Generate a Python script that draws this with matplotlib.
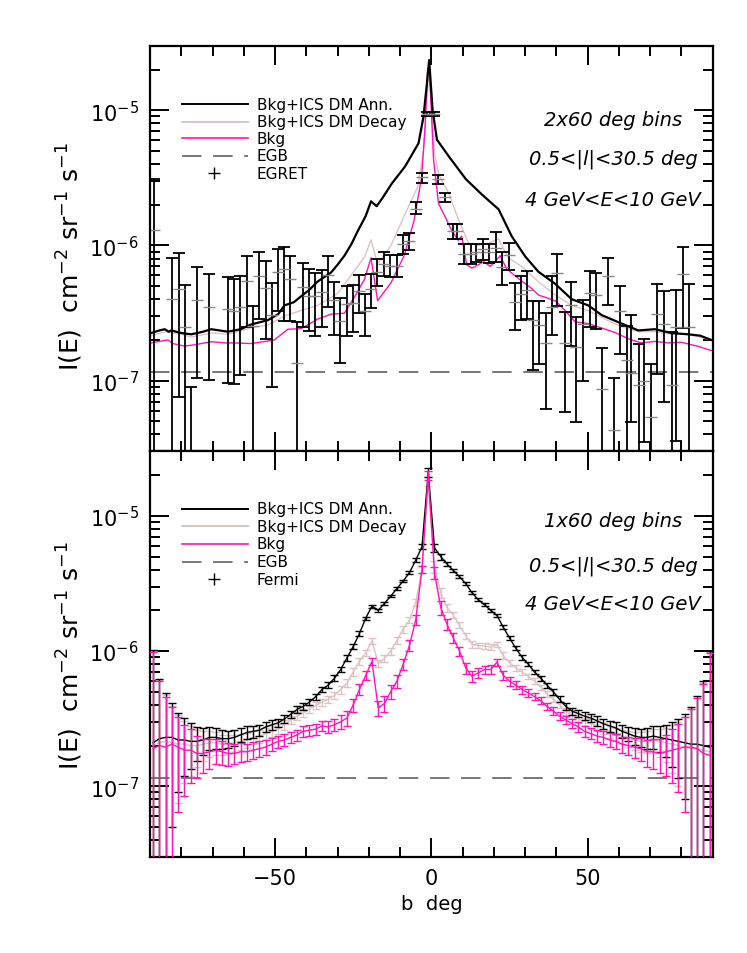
import numpy as np
import matplotlib
matplotlib.use('Agg')
import matplotlib.pyplot as plt
from matplotlib.ticker import MultipleLocator, LogLocator, NullFormatter

matplotlib.rcParams.update({'font.family': 'DejaVu Sans', 'mathtext.fontset': 'dejavusans'})

U = 1e-7   # all intensities below are in units of 1e-7 cm^-2 sr^-1 s^-1
egb = 1.15

# ---- top panel: 2x60 deg bins, models vs EGRET ----
ann_top_b = [-89.6, -87, -85.3, -84, -83.2, -80, -76.8, -73, -70.4, -65.1, -61, -57.7,
             -52.3, -49, -47, -44, -41.7, -39, -36.4, -32.1, -30, -27.8, -25.5, -23.6,
             -21, -19.3, -17.5, -15.6, -12.6, -8.4, -4.1, -2.5, -1.4, -0.7, 0.4, 1.8,
             5.6, 11, 16, 21.5, 25.7, 30, 34.2, 39.6, 44.9, 50.2, 54.5, 60.9, 66.2,
             71.5, 76.8, 82.2, 86, 89.5]
ann_top = [2.25, 2.35, 2.4, 2.3, 2.35, 2.25, 2.2, 2.3, 2.4, 2.3, 2.4, 2.6,
           2.8, 3.1, 3.6, 3.8, 4.2, 4.7, 5.4, 6.3, 7.2, 8.4, 10.3, 12.7,
           16.5, 21.2, 19.5, 22.5, 28.8, 38.4, 57, 90, 160, 235, 100, 60.5,
           45.5, 31, 24, 18.5, 11.7, 8.3, 6.4, 5.2, 4.0, 3.6, 3.05, 2.64, 2.35,
           2.4, 2.25, 2.2, 2.15, 2.0]

dec_top_b = [-89.6, -85, -80, -76.8, -70, -65, -57.7, -52, -47, -41.7, -36.4, -30,
             -25.7, -21.4, -19.3, -17.2, -12.9, -8.7, -4.4, -2.5, -1.4, -0.7, 0.4,
             1.2, 2.5, 5.5, 8.7, 11.9, 15, 18.3, 21.5, 24.6, 28.9, 34.2, 39.6, 44.9,
             50.2, 55.5, 60.9, 66.2, 71.5, 76.8, 82.2, 89.5]
dec_top = [2.15, 2.3, 2.2, 2.1, 2.25, 2.2, 2.45, 2.6, 3.0, 3.3, 3.6, 4.4,
           6.0, 8.2, 11, 7.3, 10, 16.5, 27, 50, 120, 210, 80,
           45, 33, 24.5, 15.5, 10.4, 10, 10.4, 11.2, 8.1, 7.0, 5.4, 4.3, 3.6,
           3.3, 2.85, 2.5, 2.3, 2.3, 2.2, 2.2, 2.0]

bkg_top_b = [-89.6, -87, -84.3, -82.7, -79, -75.8, -70.4, -66, -63, -57.7, -53, -50.2,
             -45.9, -41.7, -36.4, -32.1, -27.8, -24.6, -21.4, -19.3, -17.2, -12.9,
             -8.7, -5.5, -3.1, -2.0, -1.2, -0.7, 0.0, 0.7, 2.3, 4.4, 6.5, 8.6, 9.7,
             11.3, 13.0, 15.1, 16.7, 18.8, 20.4, 22.0, 24.1, 27.8, 32.1, 34.2, 39.6,
             42.8, 46.0, 50.2, 54.5, 58.7, 63.0, 67.2, 71.5, 75.8, 80.0, 85.4, 89.5]
bkg_top = [1.9, 1.95, 2.0, 1.88, 1.8, 1.84, 1.94, 1.9, 1.9, 1.88, 1.95, 2.0,
           2.4, 2.42, 2.85, 3.1, 3.15, 4.15, 5.6, 8.1, 3.9, 5.3,
           8.4, 15.4, 32, 76, 200, 210, 100, 43, 20.4, 16.3, 12.9, 10.9, 11.7,
           7.2, 6.8, 7.2, 7.6, 7.0, 7.6, 8.4, 6.7, 5.7, 4.8, 4.3, 3.9,
           3.3, 2.72, 2.64, 2.45, 2.27, 2.04, 1.9, 1.95, 1.9, 1.92, 1.79, 1.67]

# EGRET points: b, value, upper end, lower end (0.001 = runs off the bottom)
egret_b = [-88.7, -82.9, -80.8, -78.8, -77.0, -74.9, -71.0, -64.9, -63.0, -61.1, -58.9,
           -57.0, -55.2, -53.0, -51.1, -49.1, -47.0, -45.1, -43.1, -40.9, -39.0, -37.1,
           -35.0, -33.2, -31.0, -29.1, -27.0, -25.1, -23.0, -21.1, -19.2, -17.4, -15.1,
           -13.1, -11.1, -9.2, -7.3, -5.0, -3.0, -1.4, -0.4, 1.0, 2.1, 4.4, 6.9, 8.3,
           10.5, 12.6, 14.4, 16.4, 18.5, 20.6, 22.7, 24.7, 26.8, 28.6, 30.5, 32.6, 34.5,
           36.6, 38.7, 40.3, 42.6, 44.6, 46.4, 48.6, 50.6, 52.6, 54.7, 56.5, 58.4, 60.5,
           62.5, 64.0, 66.5, 68.0, 70.1, 72.3, 74.4, 77.1, 78.3, 80.5, 82.4]
egret_val = [13, 4.0, 4.75, 2.48, 0.2, 3.95, 3.5, 3.4, 3.3, 3.5, 5.5,
             2.55, 5.9, 4.87, 3.08, 6.4, 6.7, 5.6, 1.35, 4.95, 4.2, 4.2,
             4.55, 6.0, 3.95, 2.75, 3.68, 3.72, 4.6, 3.3, 4.8, 6.4, 7.26,
             7.1, 7.1, 10.2, 10.7, 18.7, 31.9, 94, 94, 94, 30.8, 22.7, 12.7, 12.7,
             8.7, 8.7, 8.9, 9.4, 8.9, 9.55, 6.9, 8.5, 3.8, 4.4, 4.7, 2.8, 2.6,
             1.9, 3.5, 6.2, 1.9, 3.6, 1.77, 2.64, 4.47, 4.3, 0.87, 5.9, 0.43, 3.3,
             1.41, 1.13, 0.93, 1.0, 0.54, 3.13, 2.64, 0.93, 2.5, 6.1, 2.5]
egret_hi = [31, 8.1, 8.8, 5.1, 0.9, 6.9, 6.1, 5.8, 5.65, 5.9, 8.4,
            3.56, 9.0, 7.7, 5.3, 9.4, 9.8, 8.4, 2.7, 7.4, 6.7, 6.3,
            6.6, 8.3, 5.4, 4.07, 5.0, 5.07, 6.05, 4.4, 6.15, 7.95, 8.9,
            8.5, 8.5, 12, 12.4, 20.9, 34.5, 97, 97, 97, 33, 24.5, 14.4, 14.4,
            10.2, 10.2, 10.3, 11.1, 10.2, 12.6, 8.9, 10.5, 5.25, 5.9, 6.5, 3.9, 3.9,
            3.17, 5.9, 8.6, 3.2, 5.4, 2.96, 3.98, 6.5, 6.3, 1.75, 8.1, 1.05, 5.0,
            2.52, 3.05, 1.87, 2.04, 1.33, 5.15, 4.6, 2.29, 4.7, 9.8, 5.15]
egret_lo = [0.001, 0.001, 0.76, 0.001, 0.001, 1.04, 1.01, 0.96, 0.95, 1.1, 2.5,
            0.001, 2.86, 2.03, 0.89, 3.26, 2.77, 2.77, 0.001, 2.48, 2.34, 2.14,
            2.48, 3.5, 2.19, 1.36, 2.15, 2.29, 3.17, 2.12, 3.47, 5.0, 5.9,
            5.8, 5.8, 8.7, 9.2, 17.1, 29, 91, 91, 91, 28.5, 21, 11.2, 11.2,
            7.3, 7.3, 7.6, 7.8, 7.4, 7.6, 5.1, 6.6, 2.35, 2.8, 2.88, 1.19, 1.33,
            0.62, 2.19, 3.56, 0.59, 1.79, 0.49, 0.99, 2.5, 2.4, 0.001, 3.6, 0.001, 1.58,
            0.001, 0.49, 0.001, 0.35, 0.001, 1.12, 0.69, 0.001, 0.36, 2.43, 0.001]

# ---- bottom panel: 1x60 deg bins, models with Fermi errors (b = -89 ... 89) ----
b_bot = np.arange(-89, 90, 2)
ann_bot = [2.1, 2.25, 2.3, 2.3, 2.2, 2.2, 2.15, 2.15, 2.2, 2.3,
           2.3, 2.25, 2.25, 2.3, 2.4, 2.5, 2.55, 2.6, 2.75, 2.85,
           2.95, 3.15, 3.4, 3.7, 3.9, 4.2, 4.6, 5.2, 5.6, 6.3,
           7.3, 8.9, 10.8, 13.5, 17.5, 21.5, 20, 22.5, 25.5, 29,
           33, 38, 47, 59, 210, 58, 50, 44, 39.5, 35.5,
           31.5, 27, 24, 22, 20, 18.3, 15, 12.5, 10.5, 9,
           8, 7, 6.3, 5.6, 5.0, 4.4, 3.9, 3.6, 3.45, 3.3,
           3.2, 3.05, 2.9, 2.8, 2.7, 2.55, 2.45, 2.35, 2.3, 2.3,
           2.35, 2.3, 2.25, 2.2, 2.15, 2.1, 2.05, 2.05, 2.0, 1.95]
dec_bot = [2.0, 2.1, 2.15, 2.1, 2.05, 2.05, 2.0, 2.0, 2.05, 2.1,
           2.1, 2.05, 2.05, 2.1, 2.15, 2.2, 2.3, 2.35, 2.45, 2.55,
           2.65, 2.85, 3.1, 3.3, 3.5, 3.7, 3.95, 4.2, 4.4, 4.7,
           5.2, 5.8, 7.0, 8.4, 9.7, 11.9, 8.1, 8.8, 10, 12,
           14.5, 17, 23, 40, 180, 42, 27, 21, 18.5, 15.5,
           13, 11.2, 11, 10.9, 10.7, 11.2, 9.3, 8.2, 7.5, 7.0,
           6.5, 6.0, 5.4, 4.8, 4.4, 4.0, 3.6, 3.35, 3.15, 3.0,
           2.9, 2.8, 2.7, 2.55, 2.45, 2.35, 2.25, 2.2, 2.15, 2.15,
           2.2, 2.15, 2.1, 2.05, 2.0, 1.95, 1.9, 1.9, 1.85, 1.8]
bkg_bot = [1.9, 2.0, 1.95, 2.05, 1.95, 1.85, 1.85, 1.75, 1.75, 1.8,
           1.85, 1.8, 1.75, 1.75, 1.8, 1.8, 1.85, 1.9, 1.95, 2.05,
           2.15, 2.2, 2.3, 2.4, 2.55, 2.6, 2.65, 2.8, 2.75, 2.85,
           3.0, 3.2, 4.0, 5.2, 6.6, 8.4, 3.8, 4.1, 5.0, 6.0,
           8.0, 11, 17, 40, 200, 38, 21, 15.8, 12.5, 10,
           7.5, 6.5, 6.9, 7.3, 7.3, 8.3, 6.6, 6.0, 5.6, 5.2,
           4.9, 4.6, 4.3, 3.9, 3.6, 3.3, 3.1, 2.9, 2.75, 2.55,
           2.45, 2.35, 2.3, 2.2, 2.15, 2.05, 2.0, 1.95, 1.9, 1.8,
           1.8, 1.75, 1.8, 1.85, 1.9, 1.95, 1.95, 1.9, 1.75, 1.7]
sig_bot = [8, 4, 2.6, 1.8, 1.3, 1.0, 0.8, 0.6, 0.5, 0.45,
           0.4, 0.36, 0.33, 0.3, 0.28, 0.27, 0.26, 0.25, 0.24, 0.23,
           0.22, 0.22, 0.22, 0.22, 0.22, 0.23, 0.24, 0.25, 0.27, 0.3,
           0.35, 0.4, 0.45, 0.5, 0.5, 0.55, 0.5, 0.55, 0.6, 0.7,
           0.8, 1.0, 1.4, 2.5, 15, 4, 2.5, 1.4, 1.0, 0.8,
           0.7, 0.6, 0.55, 0.5, 0.55, 0.5, 0.5, 0.45, 0.4, 0.35,
           0.3, 0.27, 0.25, 0.24, 0.23, 0.22, 0.22, 0.22, 0.22, 0.22,
           0.23, 0.24, 0.25, 0.26, 0.27, 0.28, 0.3, 0.33, 0.36, 0.4,
           0.45, 0.5, 0.6, 0.8, 1.0, 1.3, 1.8, 2.6, 4, 8]

c_ann = 'black'
c_dec = '#dcc4c4'
c_bkg = '#ff14b4'
c_egb = '#777777'
egb_dash = (0, (10, 6))

fig = plt.figure(figsize=(7.47, 9.54), dpi=100)
ax1 = fig.add_axes([0.2008, 0.5259, 0.7533, 0.4251])
ax2 = fig.add_axes([0.2008, 0.1006, 0.7533, 0.4253])


def style(ax):
    ax.set_yscale('log')
    ax.set_xlim(-90, 90)
    ax.set_ylim(3e-8, 3e-5)
    ax.xaxis.set_major_locator(MultipleLocator(50))
    ax.xaxis.set_minor_locator(MultipleLocator(10))
    ax.yaxis.set_minor_locator(LogLocator(base=10, subs=np.arange(2, 10)))
    ax.yaxis.set_minor_formatter(NullFormatter())
    ax.tick_params(which='both', direction='in', top=True, right=True, width=1.4)
    ax.tick_params(which='major', length=14, labelsize=15, pad=8)
    ax.tick_params(which='minor', length=7)
    for s in ax.spines.values():
        s.set_linewidth(1.6)


def legend(ax, data_name, rows_y):
    items = [('Bkg+ICS DM Ann.', c_ann, '-', 1.4), ('Bkg+ICS DM Decay', c_dec, '-', 1.4),
             ('Bkg', c_bkg, '-', 1.2), ('EGB', c_egb, egb_dash, 1.4)]
    for (lab, col, ls, lw), y in zip(items, rows_y[:4]):
        ax.plot([0.056, 0.174], [y, y], transform=ax.transAxes, color=col, ls=ls, lw=lw)
        ax.text(0.19, y, lab, transform=ax.transAxes, fontsize=11, va='center')
    ax.plot([0.114], [rows_y[4]], transform=ax.transAxes, marker='+', ms=8, color='black', ls='none')
    ax.text(0.19, rows_y[4], data_name, transform=ax.transAxes, fontsize=11, va='center')


def notes(ax, first, ys):
    for txt, y in zip([first, '0.5<|l|<30.5 deg', '4 GeV<E<10 GeV'], ys):
        ax.text(0.823, y, txt, transform=ax.transAxes, ha='center', va='center',
                fontsize=14, style='italic')


# top panel
style(ax1)
ax1.tick_params(labelbottom=False)
ax1.axhline(egb * U, color=c_egb, lw=1.4, ls=egb_dash)
ax1.plot(dec_top_b, np.array(dec_top) * U, color=c_dec, lw=1.0)
ax1.plot(bkg_top_b, np.array(bkg_top) * U, color=c_bkg, lw=1.0)
ax1.plot(ann_top_b, np.array(ann_top) * U, color=c_ann, lw=1.6)
ev = np.array(egret_val)
ax1.errorbar(egret_b, ev * U, yerr=[(ev - np.array(egret_lo)) * U, (np.array(egret_hi) - ev) * U],
             fmt='none', ecolor='black', elinewidth=1.3, capsize=4, capthick=1.3)
ax1.plot(egret_b, ev * U, ls='none', marker='_', ms=8, mew=1.0, color='#888888')
legend(ax1, 'EGRET', [0.856, 0.813, 0.772, 0.729, 0.686])
notes(ax1, '2x60 deg bins', [0.819, 0.723, 0.622])

# bottom panel
style(ax2)
ax2.axhline(egb * U, color=c_egb, lw=1.4, ls=egb_dash)
sig = np.array(sig_bot) * U
for vals, col, z in [(dec_bot, c_dec, 2), (ann_bot, c_ann, 3), (bkg_bot, c_bkg, 4)]:
    v = np.array(vals) * U
    low = np.minimum(sig, v * 0.9999)
    ax2.errorbar(b_bot, v, yerr=[low, sig], color=col, lw=1.0, elinewidth=1.0,
                 capsize=3, capthick=1.0, zorder=z)
legend(ax2, 'Fermi', [0.859, 0.815, 0.772, 0.728, 0.685])
notes(ax2, '1x60 deg bins', [0.829, 0.72, 0.624])
ax2.set_xlabel('b  deg', fontsize=14, labelpad=4)

ylab = r'I(E)  cm$^{-2}$ sr$^{-1}$ s$^{-1}$'
fig.text(0.094, 0.7306, ylab, rotation=90, ha='center', va='center', fontsize=18)
fig.text(0.094, 0.3124, ylab, rotation=90, ha='center', va='center', fontsize=18)

fig.savefig('out.png', dpi=100)
